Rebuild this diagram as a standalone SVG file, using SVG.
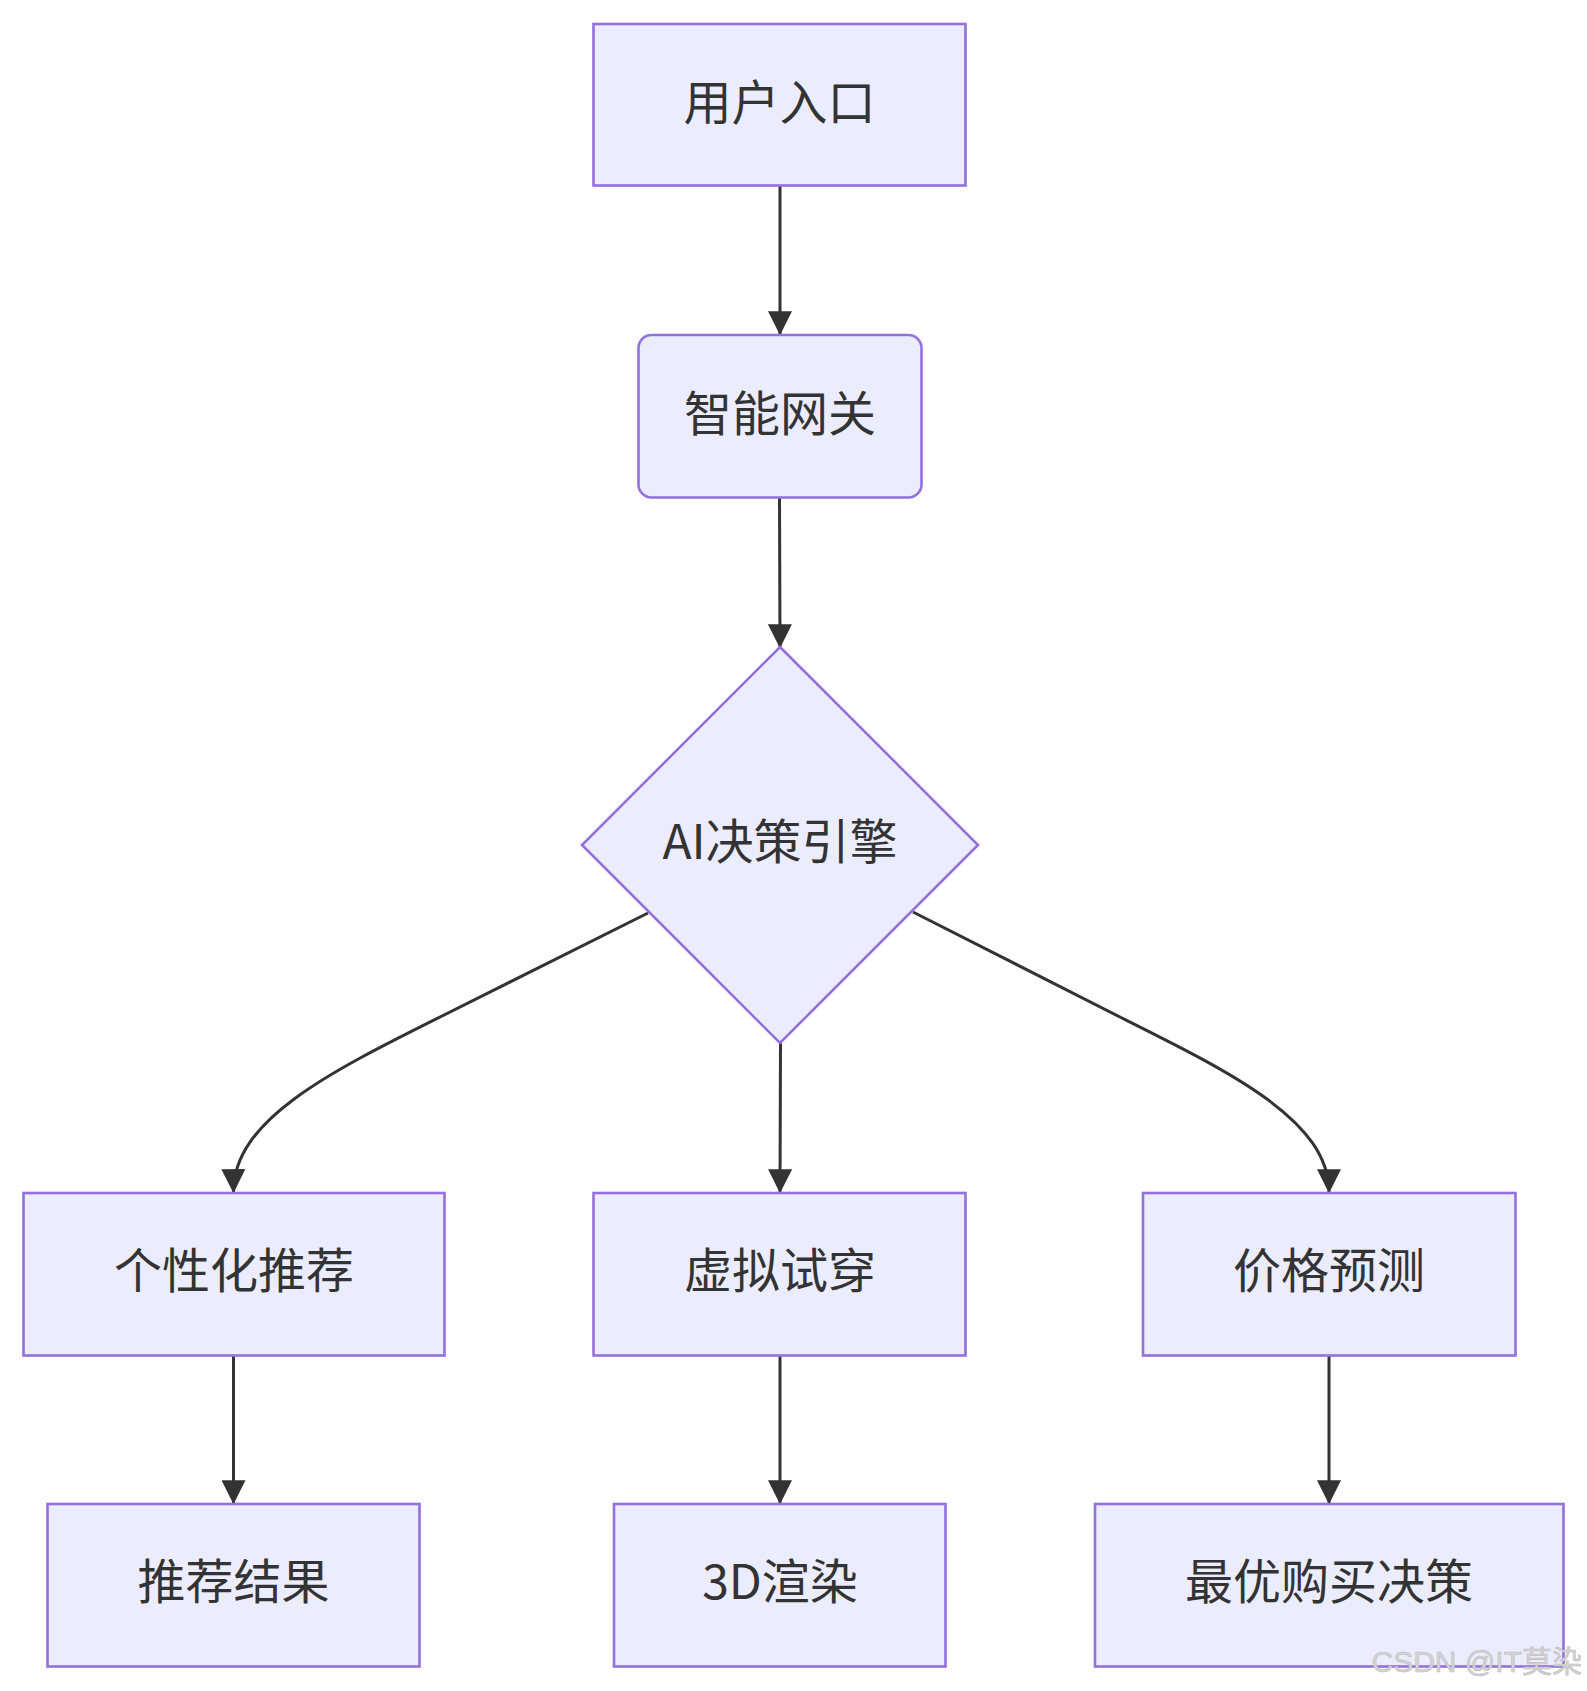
<svg xmlns="http://www.w3.org/2000/svg" width="1587" height="1691" viewBox="0 0 1587 1691">
  <style>
    .node rect, .node polygon { fill: #ECECFF; stroke: #9370DB; stroke-width: 2.6; }
    .label { font-family: "Noto Sans CJK SC", "Noto Sans", sans-serif; font-size: 48px; fill: #333333; text-anchor: middle; dominant-baseline: central; }
    .edge { fill: none; stroke: #333333; stroke-width: 3; }
    .wm { font-family: "Liberation Sans", "Noto Sans CJK SC", sans-serif; font-size: 30px; fill: #d4d4d4; stroke: #bdbdbd; stroke-width: 0.6; text-anchor: end; }
  </style>
  <defs>
    <marker id="arrow" viewBox="0 0 10 10" refX="9.5" refY="5" markerUnits="userSpaceOnUse" markerWidth="24" markerHeight="24" orient="auto">
      <path d="M0,0 L10,5 L0,10 z" fill="#333333"/>
    </marker>
  </defs>
  <rect width="1587" height="1691" fill="#ffffff"/>

  <g id="edges">
    <path class="edge" d="M780,186 L780,334" marker-end="url(#arrow)"/>
    <path class="edge" d="M779.5,498 L780,647" marker-end="url(#arrow)"/>
    <path class="edge" d="M648,913 L440,1017 C330,1072 233,1120 233.5,1192" marker-end="url(#arrow)"/>
    <path class="edge" d="M780.5,1043 L780,1192" marker-end="url(#arrow)"/>
    <path class="edge" d="M913,912 L1120,1017 C1230,1072 1329,1120 1329,1192" marker-end="url(#arrow)"/>
    <path class="edge" d="M233.5,1356 L233.5,1503" marker-end="url(#arrow)"/>
    <path class="edge" d="M780,1356 L780,1503" marker-end="url(#arrow)"/>
    <path class="edge" d="M1329,1356 L1329,1503" marker-end="url(#arrow)"/>
  </g>

  <g id="node-entry" class="node">
    <rect x="593.5" y="24" width="372" height="161.5"/>
    <text class="label" x="779.5" y="99">用户入口</text>
  </g>
  <g id="node-gateway" class="node">
    <rect x="638.5" y="335" width="283" height="162.5" rx="13" ry="13"/>
    <text class="label" x="780" y="410">智能网关</text>
  </g>
  <g id="node-ai" class="node">
    <polygon points="780,647 978,845 780,1043 582,845"/>
    <text class="label" x="780" y="838">AI决策引擎</text>
  </g>
  <g id="node-rec" class="node">
    <rect x="23.5" y="1193" width="421" height="162.5"/>
    <text class="label" x="234" y="1267">个性化推荐</text>
  </g>
  <g id="node-tryon" class="node">
    <rect x="593.5" y="1193" width="372" height="162.5"/>
    <text class="label" x="780" y="1267">虚拟试穿</text>
  </g>
  <g id="node-price" class="node">
    <rect x="1143" y="1193" width="372.5" height="162.5"/>
    <text class="label" x="1329" y="1267">价格预测</text>
  </g>
  <g id="node-result" class="node">
    <rect x="47.5" y="1504" width="372" height="162.5"/>
    <text class="label" x="233.5" y="1578">推荐结果</text>
  </g>
  <g id="node-render" class="node">
    <rect x="614" y="1504" width="331.5" height="162.5"/>
    <text class="label" x="780" y="1578">3D渲染</text>
  </g>
  <g id="node-buy" class="node">
    <rect x="1095" y="1504" width="468.5" height="162.5"/>
    <text class="label" x="1329" y="1578">最优购买决策</text>
  </g>

  <text class="wm" x="1582" y="1672">CSDN @IT莫染</text>
</svg>
